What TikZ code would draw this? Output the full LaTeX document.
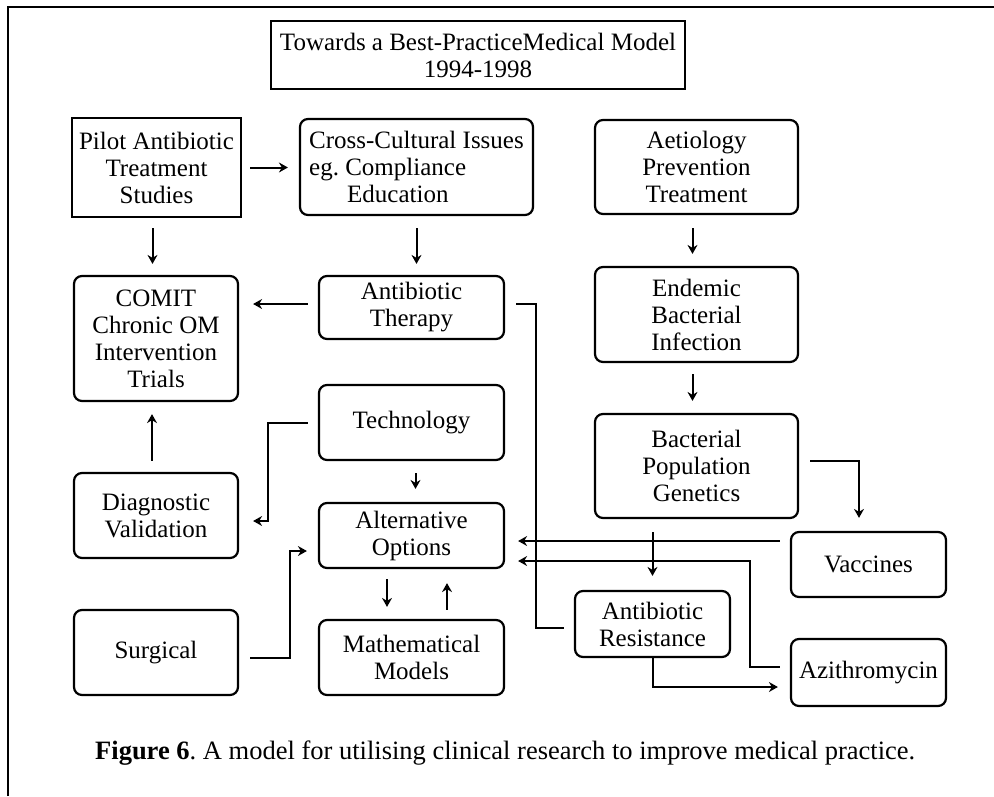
\documentclass[tikz,border=0pt]{standalone}
\usepackage{fontspec}
\setmainfont{Liberation Serif}
\usetikzlibrary{arrows.meta,calc}
\begin{document}
\frenchspacing
\begin{tikzpicture}[x=1pt,y=-1pt,
  box/.style={draw,line width=2.2pt,rounded corners=8pt,align=center,inner sep=0pt,font=\fontsize{25}{27}\selectfont},
  sqbox/.style={box,sharp corners},
  conn/.style={line width=2pt},
  arr/.style={conn,-{Stealth[length=9pt,width=10pt,inset=3pt]}},
]
\useasboundingbox (0,0) rectangle (994,796);
% frame
\draw[line width=2pt] (8,796) -- (8,7) -- (994,7);

% nodes
\node[sqbox,minimum width=414pt,minimum height=68pt] (title) at (478,55) {Towards a Best-PracticeMedical Model\\1994-1998};
\node[sqbox,minimum width=169pt,minimum height=99pt] (pilot) at (156.5,167.5) {Pilot Antibiotic\\Treatment\\Studies};
\node[box,minimum width=233pt,minimum height=96pt,align=left] (cross) at (416.5,167) {Cross-Cultural Issues\\eg.\ Compliance\\\hspace*{38pt}Education};
\node[box,minimum width=203pt,minimum height=94pt] (aet) at (696.5,167) {Aetiology\\Prevention\\Treatment};
\node[box,minimum width=164pt,minimum height=125pt] (comit) at (156,338.5) {COMIT\\Chronic OM\\Intervention\\Trials};
\node[box,minimum width=185pt,minimum height=63pt] (ther) at (411.5,307.5) {Antibiotic\\Therapy};
\node[box,minimum width=203pt,minimum height=95pt] (endemic) at (696.5,314.5) {Endemic\\Bacterial\\Infection};
\node[box,minimum width=185pt,minimum height=75pt] (tech) at (411.5,422.5) {Technology};
\node[box,minimum width=164pt,minimum height=85pt] (diag) at (156,515.5) {Diagnostic\\Validation};
\node[box,minimum width=185pt,minimum height=65pt] (alt) at (411.5,535.5) {Alternative\\Options};
\node[box,minimum width=164pt,minimum height=85pt] (surg) at (156,652.5) {Surgical};
\node[box,minimum width=185pt,minimum height=75pt] (math) at (411.5,657.5) {Mathematical\\Models};
\node[box,minimum width=203pt,minimum height=104pt] (bact) at (696.5,466) {Bacterial\\Population\\Genetics};
\node[box,minimum width=155pt,minimum height=65pt] (vacc) at (868.5,564.5) {Vaccines};
\node[box,minimum width=155pt,minimum height=66pt] (res) at (652.5,624) {Antibiotic\\Resistance};
\node[box,minimum width=155pt,minimum height=67pt] (azi) at (868.5,672.5) {Azithromycin};

\node[anchor=west,inner sep=0pt,font=\fontsize{26.5}{28}\selectfont] (cap) at (95,753) {\textbf{Figure 6}. A model for utilising clinical research to improve medical practice.};

% connectors
\draw[arr,shorten <=8pt,shorten >=11pt] (pilot.east) -- (pilot.east -| cross.west);
\draw[arr,shorten <=10pt,shorten >=11pt] ([xshift=-4pt]pilot.south) -- ([xshift=-4pt]pilot.south |- comit.north);
\draw[arr,shorten <=12pt,shorten >=11pt] (cross.south) -- (cross.south |- ther.north);
\draw[arr,shorten <=13pt,shorten >=12pt] ([xshift=-4pt]aet.south) -- ([xshift=-4pt]endemic.north);
\draw[arr,shorten <=11pt,shorten >=12pt] ([xshift=-4pt]endemic.south) -- ([xshift=-4pt]bact.north);
\draw[arr,shorten <=10pt,shorten >=14pt] ([yshift=3.5pt]ther.west) -- ([yshift=3.5pt]ther.west -| comit.east);
\draw[conn] ([xshift=11pt,yshift=3.5pt]ther.east) -- ++(20,0) |- ([xshift=-10pt,yshift=-4pt]res.west);
\draw[arr] ([xshift=-10pt]tech.west) -- ++(-40,0) |- ([xshift=14pt,yshift=-5.5pt]diag.east);
\draw[arr,shorten <=11pt,shorten >=12pt] ([xshift=-4pt]diag.north) -- ([xshift=-4pt]diag.north |- comit.south);
\draw[arr,shorten <=12pt,shorten >=13pt] ([xshift=4pt]tech.south) -- ([xshift=4pt]alt.north);
\draw[arr] ([xshift=11pt,yshift=-5.5pt]surg.east) -- ++(40,0) |- ([xshift=-11pt,yshift=-15.5pt]alt.west);
\draw[arr,shorten <=10pt,shorten >=12pt] ([xshift=-24.5pt]alt.south) -- ([xshift=-24.5pt]math.north);
\draw[arr,shorten <=9pt,shorten >=14pt] ([xshift=35.5pt]math.north) -- ([xshift=35.5pt]alt.south);
\draw[arr] ([xshift=11pt,yshift=5pt]bact.east) -| ([xshift=-9.5pt,yshift=13pt]vacc.north);
\draw[arr] ([xshift=-10pt,yshift=23.5pt]vacc.west) coordinate (v1) -- ([xshift=13pt]v1 -| alt.east);
\draw[arr] ([xshift=-10pt,yshift=5.5pt]azi.west) -- ++(-30,0) |- ([xshift=13pt,yshift=-25.5pt]alt.east);
\draw[arr,shorten <=13pt,shorten >=14pt] (res.north |- bact.south) -- (res.north);
\draw[arr] (res.south) |- ([xshift=-12pt,yshift=-14.5pt]azi.west);
\end{tikzpicture}
\end{document}
